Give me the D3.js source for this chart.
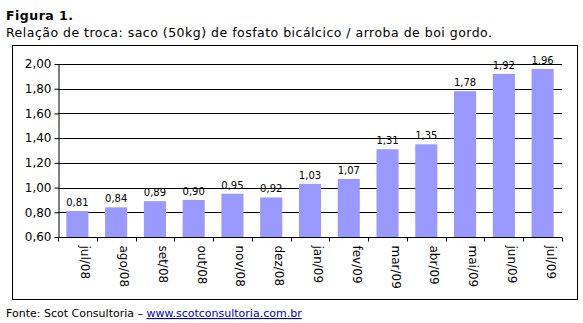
<!DOCTYPE html>
<html>
<head>
<meta charset="utf-8">
<script src="https://cdn.jsdelivr.net/npm/d3@7"></script>
<style>
  body { margin: 0; background: #fff; }
  svg { display: block; font-family: 'DejaVu Sans', Verdana, sans-serif; }
</style>
</head>
<body>
<div id="chart"></div>
<script>
// data
const months = ['jul/08', 'ago/08', 'set/08', 'out/08', 'nov/08', 'dez/08', 'jan/09',
  'fev/09', 'mar/09', 'abr/09', 'mai/09', 'jun/09', 'jul/09'];
const ratios = [0.81, 0.84, 0.89, 0.90, 0.95, 0.92, 1.03, 1.07, 1.31, 1.35, 1.78, 1.92, 1.96];
const yTicks = [0.6, 0.8, 1.0, 1.2, 1.4, 1.6, 1.8, 2.0];

const width = 583;
const height = 323;
const margin = { top: 64, right: 21, bottom: 86, left: 58 };

const svg = d3.select('#chart').append('svg')
  .attr('width', width)
  .attr('height', height);

const comma = (v) => d3.format('.2f')(v).replace('.', ',');

// titles
svg.append('text')
  .text('Figura 1.')
  .attr('x', 6)
  .attr('y', 20)
  .attr('textLength', 67)
  .attr('lengthAdjust', 'spacing')
  .style('font-size', '12.5px')
  .style('font-weight', 'bold');

svg.append('text')
  .text('Relação de troca: saco (50kg) de fosfato bicálcico / arroba de boi gordo.')
  .attr('x', 6)
  .attr('y', 37)
  .attr('textLength', 486)
  .attr('lengthAdjust', 'spacing')
  .style('font-size', '12.5px');

// outer frame
svg.append('rect')
  .attr('x', 12.5)
  .attr('y', 45.5)
  .attr('width', 565)
  .attr('height', 254)
  .attr('fill', 'none')
  .attr('stroke', 'black');

/**
 * Scales
 */
const x = d3.scaleBand()
  .domain(months)
  .range([margin.left, width - margin.right])
  .paddingInner(0.43)
  .paddingOuter(0.215);

const y = d3.scaleLinear()
  .domain([0.6, 2.0])
  .range([height - margin.bottom, margin.top]);

// gridlines
svg.append('g')
  .selectAll('line')
  .data(yTicks.slice(1))
  .enter()
  .append('line')
  .attr('x1', margin.left)
  .attr('x2', width - margin.right)
  .attr('y1', (d) => Math.round(y(d)) + 0.5)
  .attr('y2', (d) => Math.round(y(d)) + 0.5)
  .attr('stroke', 'black');

// bars
svg.append('g')
  .selectAll('rect')
  .data(ratios)
  .enter()
  .append('rect')
  .attr('x', (d, i) => x(months[i]))
  .attr('width', x.bandwidth())
  .attr('y', (d) => y(d))
  .attr('height', (d) => y(0.6) - y(d))
  .attr('fill', '#9999ff');

// value labels
svg.append('g')
  .selectAll('text')
  .data(ratios)
  .enter()
  .append('text')
  .text((d) => comma(d))
  .attr('x', (d, i) => x(months[i]) + x.bandwidth() / 2)
  .attr('y', (d) => y(d) - 5)
  .attr('text-anchor', 'middle')
  .style('font-size', '10px');

// y axis
const yAxis = svg.append('g')
  .attr('transform', `translate(${margin.left + 0.5},0)`)
  .call(d3.axisLeft(y).tickValues(yTicks).tickSize(4).tickSizeOuter(0).tickFormat(comma));
yAxis.select('.domain').attr('stroke', 'black');
yAxis.selectAll('.tick line').attr('stroke', 'black');
yAxis.selectAll('text')
  .attr('x', -7)
  .style('font-family', "'DejaVu Sans', Verdana, sans-serif")
  .style('font-size', '12px')
  .attr('fill', 'black');

// x axis
const xAxis = svg.append('g')
  .attr('transform', `translate(0,${Math.round(y(0.6)) + 0.5})`);
xAxis.append('line')
  .attr('x1', margin.left)
  .attr('x2', width - margin.right)
  .attr('stroke', 'black');
const step = x.step();
const bounds = d3.range(months.length + 1).map((i) => margin.left + i * step);
xAxis.selectAll('.tk')
  .data(bounds)
  .enter()
  .append('line')
  .attr('class', 'tk')
  .attr('x1', (d) => Math.round(d) + 0.5)
  .attr('x2', (d) => Math.round(d) + 0.5)
  .attr('y1', 0)
  .attr('y2', 4)
  .attr('stroke', 'black');
xAxis.selectAll('.lbl')
  .data(months)
  .enter()
  .append('text')
  .attr('class', 'lbl')
  .text((d) => d)
  .attr('transform', (d) => `translate(${x(d) + x.bandwidth() / 2 + 4},8) rotate(90)`)
  .style('font-size', '12px');

// footer
const foot = svg.append('text')
  .attr('x', 6)
  .attr('y', 317)
  .style('font-size', '11px');
foot.append('tspan').text('Fonte: Scot Consultoria – ');
foot.append('tspan')
  .text('www.scotconsultoria.com.br')
  .attr('fill', '#0000cc')
  .style('text-decoration', 'underline');
</script>
</body>
</html>
